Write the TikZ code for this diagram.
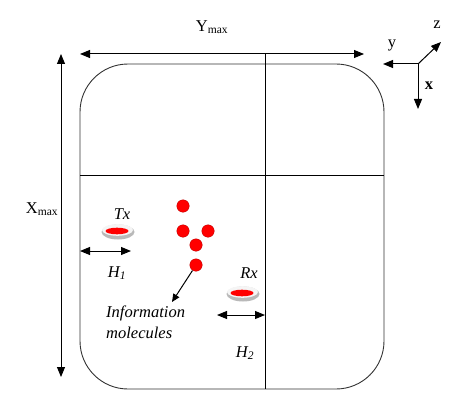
\documentclass[tikz,border=0pt]{standalone}
\usepackage{fontspec}
\setmainfont{Liberation Serif}
\usetikzlibrary{arrows.meta}
\begin{document}
\begin{tikzpicture}[x=1pt,y=-1pt,
  arr/.style={-{Triangle[length=10pt,width=8pt]},line width=1pt},
  darr/.style={{Triangle[length=10pt,width=8pt]}-{Triangle[length=10pt,width=8pt]},line width=1pt},
  molecule/.style={circle,fill=red,draw=red!70!black,line width=0.3pt,minimum size=12.5pt,inner sep=0pt},
  lbl/.style={font=\fontsize{16.5}{19}\selectfont,inner sep=0pt},
  ilbl/.style={font=\fontsize{16.5}{19}\selectfont\itshape,inner sep=0pt}]
\useasboundingbox (0,0) rectangle (465,401);
% container
\draw[line width=0.9pt,black!80] (80,64) [rounded corners=48pt] -- (384,64) -- (384,389) -- (80,389) -- cycle;
\coordinate (vtop) at (265,54);
\coordinate (vbot) at (265,389);
\coordinate (hl) at (80,175);
\coordinate (hr) at (384,175);
\draw[line width=0.9pt] (vtop) -- (vbot);
\draw[line width=0.9pt] (hl) -- (hr);
% Ymax
\coordinate (yl) at (80,54);
\coordinate (yr) at (364,54);
\draw[darr] (yl) -- (yr);
\node[lbl] (ymax) at (212,27) {Y\textsubscript{max}};
% Xmax
\coordinate (xt) at (61,54);
\coordinate (xb) at (61,377);
\draw[darr] (xt) -- (xb);
\node[lbl] (xmax) at (42,209) {X\textsubscript{max}};
% axes
\coordinate (o) at (418,64);
\coordinate (ay) at (383,64);
\coordinate (az) at (441,42);
\coordinate (ax) at (418,109);
\draw[arr] (o) -- (ay);
\draw[arr] (o) -- (az);
\draw[arr] (o) -- (ax);
\node[lbl] (ylab) at (392,45) {y};
\node[lbl] (zlab) at (437,25) {z};
\node[lbl,font=\fontsize{16.5}{19}\selectfont\bfseries] (xlab) at (429,86) {x};
% Tx
\fill[gray!55] (118,232) ellipse [x radius=16.5pt,y radius=7.5pt];
\fill[gray!8] (117.5,230) ellipse [x radius=15.5pt,y radius=5.8pt];
\fill[red] (117,231) ellipse [x radius=11.5pt,y radius=3.3pt];
\node[ilbl] (tx) at (122,214) {Tx};
\coordinate (h1l) at (80,251);
\coordinate (h1r) at (131,251);
\draw[darr] (h1l) -- (h1r);
\node[ilbl] (h1) at (117,273) {H\textsubscript{1}};
% Rx
\fill[gray!55] (243,294) ellipse [x radius=16.5pt,y radius=7.5pt];
\fill[gray!8] (242.5,292) ellipse [x radius=15.5pt,y radius=5.8pt];
\fill[red] (242,293) ellipse [x radius=11.5pt,y radius=3.3pt];
\node[ilbl] (rx) at (249,273) {Rx};
\coordinate (h2l) at (217,315);
\coordinate (h2r) at (265,315);
\draw[darr] (h2l) -- (h2r);
\node[ilbl] (h2) at (245,353) {H\textsubscript{2}};
% molecules
\node[molecule] (m1) at (183,206) {};
\node[molecule] (m2) at (183,231) {};
\node[molecule] (m3) at (208,231) {};
\node[molecule] (m4) at (196,245) {};
\node[molecule] (m5) at (196,265) {};
\node[ilbl,align=left,anchor=west,font=\fontsize{16.5}{21}\selectfont\itshape] (info) at (106,322) {Information\\molecules};
\coordinate (infotip) at (172,302);
\draw[arr,-{Triangle[length=8pt,width=7pt]}] (m5.south west) ++(1,1) -- (infotip);
\end{tikzpicture}
\end{document}
